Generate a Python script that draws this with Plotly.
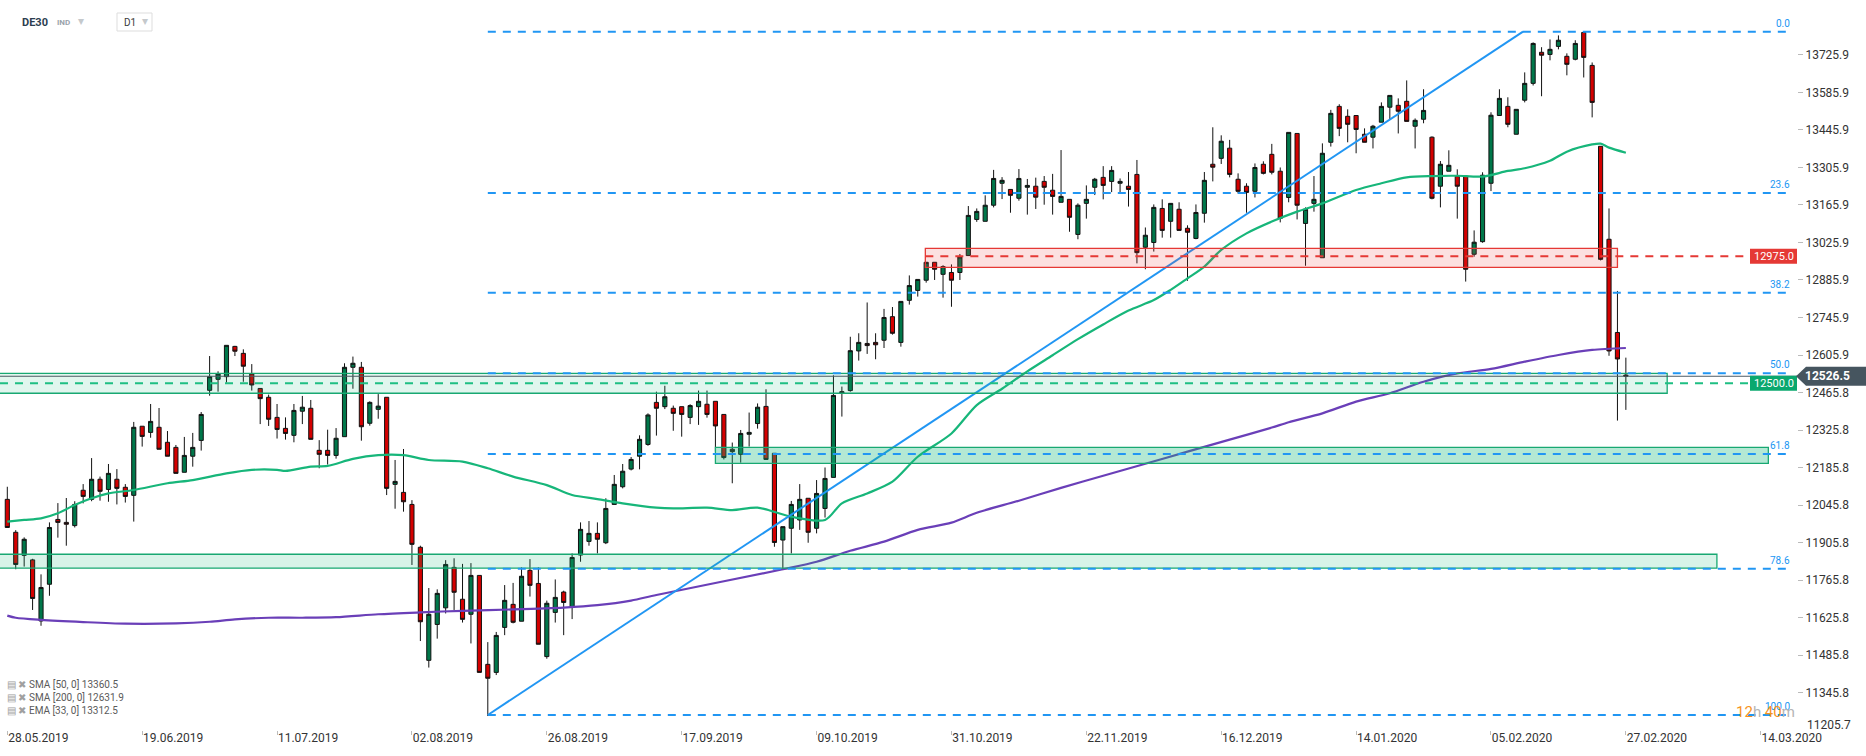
import plotly.graph_objects as go

# ---------------- data ----------------
open_ = [12067,11944,11858,11841,11613,11750,11992,11981,11969,12101,12067,12142,12104,12142,12112,12082,12340,12317,12336,12280,
         12261,12168,12228,12287,12474,12515,12525,12638,12612,12535,12481,12448,12373,12332,12306,12396,12407,12250,12250,12231,
         12301,12560,12560,12351,12403,12448,12123,12093,12048,11888,11466,11600,11662,11813,11694,11638,11783,11451,11421,11589,
         11675,11612,11802,11753,11480,11645,11721,11666,11859,11910,11940,11905,12048,12114,12180,12228,12272,12429,12413,12407,
         12413,12373,12413,12422,12433,12384,12254,12235,12310,12350,12414,12239,11915,11959,11990,12071,11959,12033,12149,12469,
         12473,12621,12649,12653,12661,12749,12653,12810,12847,12885,12952,12907,12914,12914,12977,13112,13105,13165,13247,13224,
         13191,13232,13236,13254,13221,13176,13187,13056,13172,13232,13269,13254,13247,13236,13280,13008,13026,13153,13105,13150,
         13079,13041,13135,13318,13340,13378,13262,13236,13217,13318,13355,13292,13194,13433,13097,13172,12969,13400,13534,13497,
         13500,13430,13419,13475,13531,13538,13553,13460,13486,13419,13236,13292,13273,13273,12982,13029,13247,13500,13534,13430,
         13557,13620,13736,13728,13758,13721,13710,13810,13687,13385,13038,12690,12531]
high_ = [12114,11952,11925,11845,11787,11981,12053,12072,12060,12124,12221,12152,12199,12180,12124,12356,12340,12423,12408,12322,
         12270,12300,12315,12393,12602,12545,12642,12640,12627,12572,12481,12458,12423,12373,12423,12453,12438,12288,12327,12333,
         12575,12600,12580,12433,12460,12448,12214,12255,12064,11894,11736,11731,11840,11847,11826,11829,11783,11534,11572,11747,
         11755,11813,11844,11813,11689,11768,11726,11865,11981,11986,11981,12071,12158,12199,12225,12306,12388,12469,12491,12417,
         12413,12422,12473,12473,12433,12384,12279,12326,12391,12425,12478,12239,11965,12061,12124,12071,12139,12186,12530,12488,
         12674,12687,12802,12687,12778,12785,12806,12903,12888,12952,12952,12941,12944,12983,13162,13153,13202,13297,13270,13224,
         13300,13263,13268,13274,13282,13371,13187,13172,13239,13267,13311,13311,13265,13289,13334,13082,13168,13187,13172,13176,
         13090,13168,13289,13456,13426,13409,13284,13247,13321,13329,13394,13306,13437,13433,13157,13274,13396,13521,13542,13523,
         13500,13452,13465,13549,13575,13564,13631,13489,13598,13422,13330,13370,13299,13273,13071,13288,13512,13598,13568,13523,
         13661,13773,13755,13784,13799,13732,13781,13814,13698,13385,13153,12845,12596]
low_ = [11962,11806,11816,11654,11595,11707,11924,11894,11962,12052,12060,12062,12058,12048,12055,11984,12264,12297,12254,12228,
        12164,12168,12189,12249,12454,12469,12503,12602,12506,12473,12348,12341,12294,12290,12280,12348,12291,12183,12197,12219,
        12301,12480,12286,12342,12368,12083,12032,12021,11822,11538,11439,11547,11641,11654,11607,11529,11421,11258,11411,11560,
        11604,11612,11704,11526,11472,11607,11560,11620,11834,11894,11865,11900,12048,12108,12175,12179,12267,12305,12404,12323,
        12301,12348,12345,12372,12245,12216,12127,12204,12264,12331,12214,11890,11803,11865,11953,11905,11940,11999,12149,12376,
        12469,12585,12610,12590,12632,12682,12637,12794,12824,12876,12886,12820,12786,12886,12977,13103,13105,13157,13188,13137,
        13182,13130,13151,13167,13130,13176,13066,13038,13115,13203,13187,13214,13209,13160,12948,12926,12992,13044,13044,13071,
        12883,13038,13100,13254,13319,13269,13209,13137,13194,13280,13280,13101,13176,13112,12939,13141,12969,13384,13423,13400,
        13359,13400,13377,13475,13486,13433,13478,13377,13471,13187,13157,13292,13115,12880,12973,13025,13218,13500,13456,13430,
        13549,13612,13572,13706,13747,13650,13706,13642,13493,12959,12603,12361,12401]
close_ = [11962,11824,11918,11697,11738,11962,11981,11974,12048,12078,12142,12097,12164,12108,12078,12336,12302,12358,12254,12228,
          12164,12231,12261,12384,12525,12535,12642,12620,12564,12494,12443,12366,12328,12313,12399,12411,12291,12235,12231,12295,
          12560,12575,12338,12429,12415,12108,12134,12058,11899,11610,11638,11716,11824,11720,11619,11783,11421,11399,11559,11690,
          11608,11780,11746,11526,11679,11701,11682,11850,11955,11940,11918,12033,12123,12172,12216,12291,12382,12407,12450,12388,
          12384,12417,12433,12384,12341,12223,12245,12313,12317,12411,12216,11906,11965,12048,12067,11944,12089,12145,12455,12463,
          12622,12653,12641,12644,12746,12687,12806,12865,12888,12952,12926,12936,12885,12972,13127,13142,13165,13265,13258,13202,
          13265,13239,13195,13232,13198,13198,13120,13165,13187,13262,13239,13295,13254,13224,12988,13053,13157,13071,13172,13071,
          13064,13138,13258,13307,13404,13280,13217,13213,13306,13284,13288,13116,13437,13165,13150,13187,13359,13508,13452,13467,
          13448,13400,13460,13534,13575,13516,13478,13482,13519,13191,13318,13314,13236,12926,13027,13277,13501,13564,13467,13523,
          13620,13769,13725,13747,13781,13691,13769,13717,13549,12963,12621,12591,12526.5]
candle_idx = list(range(len(close_)))

sma50_idx = [0, 2, 4, 6, 8, 10, 12, 15, 19, 22, 26, 29, 32, 33, 36, 38, 41, 44, 47, 50, 54, 57, 60, 64, 67, 70, 73, 77,
             79, 83, 86, 89, 93, 97, 99, 102, 105, 108, 112, 115, 118, 121, 124, 127, 130, 133, 136, 138, 140, 142, 144,
             147, 150, 153, 156, 160, 163, 166, 169, 172, 175, 178, 180, 183, 185, 188, 189, 190, 192]
sma50_val = [11984, 11990, 11996, 12015, 12046, 12071, 12089, 12102, 12127, 12139, 12164, 12177, 12177, 12173, 12189, 12192,
             12218, 12232, 12232, 12214, 12208, 12183, 12152, 12120, 12083, 12068, 12052, 12036, 12033, 12036, 12027, 12036,
             12002, 11990, 12052, 12089, 12133, 12226, 12313, 12419, 12480, 12545, 12605, 12665, 12720, 12772, 12811, 12849,
             12892, 12936, 12998, 13060, 13104, 13141, 13172, 13222, 13247, 13269, 13274, 13275, 13272, 13293, 13303, 13331,
             13365, 13392, 13395, 13380, 13361]
sma200_idx = [0, 1, 4, 9, 14, 20, 24, 27, 31, 35, 39, 44, 49, 54, 60, 66, 70, 74, 77, 92, 96, 100, 104, 108, 112, 115,
              120, 125, 130, 135, 140, 145, 150, 152, 156, 160, 164, 168, 172, 176, 180, 184, 188, 192]
sma200_val = [11633, 11625, 11617, 11609, 11603, 11604, 11610, 11619, 11625, 11625, 11627, 11638, 11645, 11651, 11656,
              11663, 11672, 11689, 11710, 11806, 11834, 11875, 11909, 11953, 11980, 12017, 12062, 12110, 12155, 12200,
              12245, 12290, 12335, 12355, 12388, 12432, 12463, 12506, 12537, 12554, 12581, 12606, 12625, 12632]

trend_idx = [57, 179.8]
trend_price = [11262, 13813]

fib_text = ["0.0", "23.6", "38.2", "50.0", "61.8", "78.6", "100.0"]
fib_price = [13813, 13211, 12838.5, 12537.5, 12236.5, 11808, 11262]
fib_start_idx = 57

zone_low = [12463, 12933, 12201, 11810]
zone_high = [12537.5, 13004, 12261, 11862]
zone_start = [-1, 108.9, 84, -1]
zone_end = [196.9, 191, 208.9, 202.8]

level_red = 12975.0
level_green = 12500.0
last_price = 12526.5

date_idx = [0, 16, 32, 48, 64, 80, 96, 112, 128, 144, 160, 176, 192, 208]
date_text = ["28.05.2019", "19.06.2019", "11.07.2019", "02.08.2019", "26.08.2019", "17.09.2019", "09.10.2019",
             "31.10.2019", "22.11.2019", "16.12.2019", "14.01.2020", "05.02.2020", "27.02.2020", "14.03.2020"]
price_ticks = [13725.9, 13585.9, 13445.9, 13305.9, 13165.9, 13025.9, 12885.9, 12745.9, 12605.9,
               12465.8, 12325.8, 12185.8, 12045.8, 11905.8, 11765.8, 11625.8, 11485.8, 11345.8]
price_bottom = 11205.7

legend_lines = ["SMA [50, 0] 13360.5", "SMA [200, 0] 12631.9", "EMA [33, 0] 13312.5"]

# ---------------- layout geometry ----------------
W, H = 1866, 756
ML, MR, MT, MB = 0, 69, 0, 26
PW, PH = W - ML - MR, H - MT - MB
X_RANGE = [-0.866, 212.3]
Y_RANGE = [11205.9, 13931.2]
RIGHT_IDX = 211.7     # fib lines right end
LABEL_IDX = 206.7     # start of level label boxes


def pxx(x):
    return (x - ML) / PW


def pyy(y):
    return 1 - (y - MT) / PH


def ypix(price):
    return MT + (Y_RANGE[1] - price) / (Y_RANGE[1] - Y_RANGE[0]) * PH


FONT = "Roboto"
GREEN = "#00774a"
RED = "#d40000"
BLUE = "#2196f3"

fig = go.Figure()
fig.add_trace(go.Candlestick(
    x=candle_idx, open=open_, high=high_, low=low_, close=close_,
    increasing=dict(line=dict(color="#111111", width=1), fillcolor=GREEN),
    decreasing=dict(line=dict(color="#111111", width=1), fillcolor=RED),
    whiskerwidth=0, showlegend=False, hoverinfo="skip"))
fig.add_trace(go.Scatter(x=sma50_idx, y=sma50_val, mode="lines",
                         line=dict(color="#17b67a", width=2.2, shape="spline", smoothing=0.8),
                         showlegend=False, hoverinfo="skip"))
fig.add_trace(go.Scatter(x=sma200_idx, y=sma200_val, mode="lines",
                         line=dict(color="#6a3fb8", width=2.2, shape="spline", smoothing=0.8),
                         showlegend=False, hoverinfo="skip"))
fig.add_trace(go.Scatter(x=trend_idx, y=trend_price, mode="lines",
                         line=dict(color=BLUE, width=2), showlegend=False, hoverinfo="skip"))

shapes = []
zone_fill = ["rgba(23,185,120,0.13)", "rgba(235,60,60,0.16)", "rgba(23,185,120,0.32)", "rgba(23,185,120,0.17)"]
zone_line = ["#18a872", "#e53935", "#18a872", "#18a872"]
for lo, hi, s, e, fc, lc in zip(zone_low, zone_high, zone_start, zone_end, zone_fill, zone_line):
    shapes.append(dict(type="rect", xref="x", yref="y", x0=s, x1=e, y0=lo, y1=hi,
                       fillcolor=fc, line=dict(color=lc, width=1.3), layer="above"))

for p in fib_price:
    shapes.append(dict(type="line", xref="x", yref="y", x0=fib_start_idx, x1=RIGHT_IDX, y0=p, y1=p,
                       line=dict(color=BLUE, width=2, dash="8px,7px"), layer="above"))

# current price line
shapes.append(dict(type="line", xref="x", yref="y", x0=X_RANGE[0], x1=X_RANGE[1], y0=last_price, y1=last_price,
                   line=dict(color="#4b5a63", width=1.2), layer="above"))
# levels
shapes.append(dict(type="line", xref="x", yref="y", x0=zone_start[1], x1=LABEL_IDX, y0=level_red, y1=level_red,
                   line=dict(color="#e53935", width=2, dash="8px,7px"), layer="above"))
shapes.append(dict(type="line", xref="x", yref="y", x0=X_RANGE[0], x1=LABEL_IDX, y0=level_green, y1=level_green,
                   line=dict(color="#1fbf83", width=2, dash="8px,7px"), layer="above"))

annotations = []
# level label boxes
for lvl, col in [(level_red, "#e53935"), (level_green, "#0aa86e")]:
    yc = ypix(lvl)
    shapes.append(dict(type="rect", xref="paper", yref="paper", x0=pxx(1750), x1=pxx(1797),
                       y0=pyy(yc + 7.5), y1=pyy(yc - 7.5), fillcolor=col, line=dict(width=0), layer="above"))
    annotations.append(dict(xref="paper", yref="paper", x=pxx(1773.5), y=pyy(yc), text=f"{lvl:.1f}",
                            showarrow=False, font=dict(family=FONT, size=11, color="white"),
                            xanchor="center", yanchor="middle"))

# last price tag
yc = ypix(last_price)
path = (f"M {pxx(1796)},{pyy(yc)} L {pxx(1806)},{pyy(yc - 9.5)} L {pxx(1866)},{pyy(yc - 9.5)} "
        f"L {pxx(1866)},{pyy(yc + 9.5)} L {pxx(1806)},{pyy(yc + 9.5)} Z")
shapes.append(dict(type="path", xref="paper", yref="paper", path=path, fillcolor="#46555f",
                   line=dict(width=0), layer="above"))
annotations.append(dict(xref="paper", yref="paper", x=pxx(1804), y=pyy(yc), text=f"<b>{last_price:.1f}</b>",
                        showarrow=False, font=dict(family=FONT, size=12, color="white"),
                        xanchor="left", yanchor="middle", borderpad=0))

# fib labels
for t, p in zip(fib_text, fib_price):
    annotations.append(dict(xref="x", yref="y", x=RIGHT_IDX, y=p, text=t, showarrow=False,
                            font=dict(family=FONT, size=10, color=BLUE), xanchor="right", yanchor="bottom",
                            yshift=1))

# bottom price label
annotations.append(dict(xref="paper", yref="paper", x=pxx(1805), y=pyy(725), text=f"{price_bottom:.1f}",
                        showarrow=False, font=dict(family=FONT, size=12, color="#333333"),
                        xanchor="left", yanchor="middle"))

# countdown
annotations.append(dict(xref="paper", yref="paper", x=pxx(1797), y=pyy(712),
                        text="<span style='color:#f7941d'>12</span><span style='color:#b5b5b5'>h </span>"
                             "<span style='color:#f7941d'>40</span><span style='color:#b5b5b5'>m</span>",
                        showarrow=False, font=dict(family=FONT, size=15), xanchor="right", yanchor="middle"))

# indicator legend
for k, t in enumerate(legend_lines):
    yy = 684 + 13.3 * k
    annotations.append(dict(xref="paper", yref="paper", x=pxx(5), y=pyy(yy),
                            text="<span style='color:#a0a0a0'>▤ ✖</span> " + t,
                            showarrow=False, font=dict(family=FONT, size=10, color="#5a5a5a"),
                            xanchor="left", yanchor="middle"))

# header
annotations.append(dict(xref="paper", yref="paper", x=pxx(20), y=pyy(22.5), text="<b>DE30</b>", showarrow=False,
                        font=dict(family=FONT, size=11, color="#2c3e50"), xanchor="left", yanchor="middle"))
annotations.append(dict(xref="paper", yref="paper", x=pxx(55), y=pyy(22.5), text="<b>IND</b>", showarrow=False,
                        font=dict(family=FONT, size=8, color="#9aa3ab"), xanchor="left", yanchor="middle"))
annotations.append(dict(xref="paper", yref="paper", x=pxx(76), y=pyy(21.5), text="▾", showarrow=False,
                        font=dict(family=FONT, size=12, color="#c5c9cc"), xanchor="left", yanchor="middle"))
shapes.append(dict(type="rect", xref="paper", yref="paper", x0=pxx(117), x1=pxx(152), y0=pyy(31), y1=pyy(13),
                   fillcolor="white", line=dict(color="#dddddd", width=1), layer="above"))
annotations.append(dict(xref="paper", yref="paper", x=pxx(122), y=pyy(22.5), text="D1", showarrow=False,
                        font=dict(family=FONT, size=10, color="#3a3a3a"), xanchor="left", yanchor="middle"))
annotations.append(dict(xref="paper", yref="paper", x=pxx(140), y=pyy(21.5), text="▾", showarrow=False,
                        font=dict(family=FONT, size=12, color="#c5c9cc"), xanchor="left", yanchor="middle"))

fig.update_layout(
    width=W, height=H,
    margin=dict(l=ML, r=MR, t=MT, b=MB, pad=0, autoexpand=False),
    paper_bgcolor="white", plot_bgcolor="white",
    font=dict(family=FONT, size=12, color="#333333"),
    shapes=shapes, annotations=annotations,
    showlegend=False,
    xaxis=dict(range=X_RANGE, rangeslider=dict(visible=False), showgrid=False, zeroline=False, showline=False,
               automargin=False,
               tickmode="array", tickvals=date_idx, ticktext=date_text, ticks="outside", ticklen=4,
               tickcolor="#bbbbbb", tickfont=dict(family=FONT, size=12, color="#333333"), ticklabelshift=31,
               ticklabelstandoff=-7, fixedrange=True),
    yaxis=dict(range=Y_RANGE, side="right", showgrid=False, zeroline=False, showline=False, automargin=False,
               tickmode="array", tickvals=price_ticks, ticktext=[f"{v:.1f}" for v in price_ticks],
               ticks="outside", ticklen=5, tickcolor="#bbbbbb",
               tickfont=dict(family=FONT, size=12, color="#333333"), fixedrange=True),
)

fig.write_html("out.html", config={"displayModeBar": False},
               post_script="document.body.style.margin='0';document.body.style.overflow='hidden';")
